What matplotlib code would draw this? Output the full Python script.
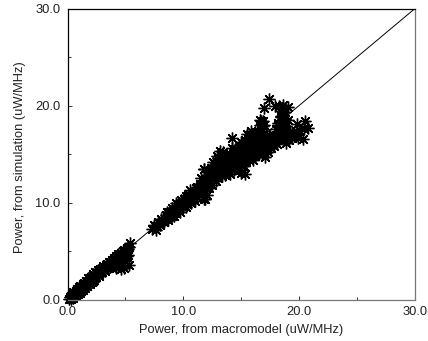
import matplotlib
matplotlib.use("Agg")
import matplotlib.pyplot as plt

# valores, por tramos
low_x = [0.1, 0.2, 0.3, 0.4, 0.5, 0.5, 0.7, 0.8, 0.9, 1.0, 1.1, 1.1, 1.3, 1.4, 1.5, 1.6, 1.7, 1.8, 1.9, 2.0, 2.1, 2.2, 2.3, 2.4, 2.5, 2.6, 2.7, 2.8, 3.0, 3.1, 3.2, 3.3, 3.5, 3.6, 3.7, 3.8, 3.9, 4.0, 4.1, 4.2, 4.3, 4.4, 4.5, 4.6, 4.7, 4.8, 5.0, 5.1, 5.2, 5.3, 5.4, 5.3, 4.9, 4.6, 4.2, 0.6, 0.9, 1.2, 1.5, 1.8, 2.1, 2.4, 2.7, 3.0, 3.3, 3.6, 3.9, 4.2, 4.5, 4.8, 5.1, 4.4, 4.8, 5.0, 0.3, 0.7, 1.0, 1.3, 1.6, 1.9, 2.2, 2.5, 2.8, 3.1, 3.4, 3.7, 4.0, 4.3, 4.6, 4.9, 5.2, 1.2, 1.7, 2.2, 2.7, 3.2, 3.7, 4.2, 4.7, 5.1]
low_y = [0.1, 0.3, 0.1, 0.6, 0.2, 0.8, 0.4, 1.1, 0.6, 1.3, 0.7, 1.4, 1.0, 1.7, 1.2, 1.9, 1.4, 2.2, 1.6, 2.3, 1.8, 2.6, 2.0, 2.8, 2.3, 3.0, 2.5, 3.1, 2.8, 3.5, 3.0, 3.6, 3.2, 3.9, 3.4, 4.1, 3.6, 4.2, 3.5, 4.5, 3.8, 4.7, 4.0, 4.8, 4.2, 5.0, 4.4, 5.3, 4.6, 5.4, 5.8, 3.6, 3.2, 3.1, 3.2, 0.6, 0.9, 1.1, 1.5, 1.8, 2.1, 2.4, 2.7, 3.1, 3.3, 3.6, 3.9, 4.1, 4.4, 4.6, 5.0, 3.5, 3.8, 4.0, 0.4, 0.9, 1.2, 1.6, 1.9, 2.2, 2.5, 2.7, 3.0, 3.3, 3.7, 3.9, 4.3, 4.5, 4.7, 5.1, 5.2, 0.9, 1.4, 1.9, 2.4, 2.9, 3.5, 3.9, 4.3, 4.5]
mid_x = [7.3, 7.5, 7.6, 7.8, 8.0, 8.1, 8.3, 8.5, 8.7, 8.8, 9.0, 9.2, 9.3, 9.5, 9.6, 9.8, 10.0, 10.1, 10.3, 10.4, 10.6, 10.8, 10.9, 11.1, 11.2, 11.4, 11.6, 11.7, 11.9, 11.8, 12.0, 12.2, 11.8, 7.7, 8.2, 8.6, 9.1, 9.5, 9.9, 10.2, 10.6, 10.9, 11.3, 11.6, 11.9, 7.9, 8.4, 8.9, 9.4, 9.7, 10.1, 10.5, 10.8, 11.1, 11.5, 11.8, 12.1, 12.0, 11.5, 11.2, 8.6, 9.0, 9.4, 9.8, 10.2, 10.6, 9.2, 9.7, 10.2, 10.7, 11.0]
mid_y = [7.3, 7.7, 7.2, 8.0, 7.7, 8.3, 8.0, 8.7, 8.2, 9.0, 8.6, 9.3, 8.9, 9.6, 9.2, 10.0, 9.5, 10.4, 9.8, 10.8, 10.1, 11.1, 10.4, 11.5, 10.6, 11.9, 11.0, 12.2, 11.2, 13.5, 10.8, 11.5, 10.4, 7.6, 8.1, 8.5, 8.9, 9.3, 9.7, 10.1, 10.5, 10.8, 11.2, 11.5, 11.9, 7.9, 8.3, 8.8, 9.2, 9.8, 10.0, 10.3, 11.0, 11.2, 11.3, 11.8, 12.4, 12.8, 12.5, 11.6, 9.0, 9.4, 9.9, 10.3, 10.7, 11.3, 8.6, 9.0, 9.5, 9.9, 10.2]
high_x = [12.2, 12.4, 12.5, 12.6, 12.8, 12.9, 13.0, 13.2, 13.3, 13.4, 13.6, 13.7, 13.8, 14.0, 14.1, 14.2, 14.4, 14.5, 14.6, 14.8, 14.9, 15.0, 15.2, 15.3, 15.4, 15.6, 15.7, 15.8, 16.0, 16.1, 16.2, 16.4, 16.5, 16.6, 16.8, 16.9, 17.0, 17.2, 17.3, 17.4, 17.6, 17.7, 17.8, 18.0, 18.1, 18.2, 18.3, 18.4, 18.5, 18.6, 18.7, 18.8, 18.9, 19.0, 19.2, 19.4, 14.6, 15.0, 16.6, 17.0]
high_y = [12.0, 13.6, 11.8, 14.2, 12.2, 14.8, 12.5, 15.3, 12.7, 15.2, 12.8, 15.0, 13.2, 12.9, 14.8, 15.6, 13.3, 15.5, 13.6, 15.9, 13.4, 16.2, 13.8, 16.4, 14.2, 16.5, 14.4, 16.9, 14.4, 17.0, 14.8, 16.6, 15.0, 18.5, 15.0, 18.4, 15.4, 16.9, 15.2, 17.0, 15.6, 16.4, 15.8, 16.9, 16.0, 18.0, 16.6, 18.8, 17.4, 19.0, 18.3, 17.5, 17.9, 18.5, 17.2, 17.0, 14.0, 13.0, 15.2, 16.0]
# relleno interior de la nube principal
fill_x = [12.3, 12.6, 12.9, 13.1, 12.7, 13.2, 13.5, 13.4, 13.8, 13.7, 14.1, 14.0, 14.3, 14.4, 14.7, 14.6, 14.9, 15.0, 15.3, 15.2, 15.5, 15.4, 15.8, 15.7, 16.0, 16.1, 16.3, 16.4, 16.6, 16.8, 16.9, 17.1, 17.2, 17.5, 17.6, 17.9, 18.1, 18.3, 18.5, 18.7, 13.0, 13.6, 14.2, 14.8, 15.1, 15.6, 16.2,
          12.4, 12.8, 13.0, 13.3, 13.5, 13.9, 14.1, 14.3, 14.5, 14.7, 14.9, 15.1, 15.3, 15.5, 15.7, 15.9, 16.1, 16.3, 16.5, 16.7, 17.0, 17.3, 17.7, 18.2, 18.4, 18.6, 18.8,
          12.5, 12.7, 13.1, 13.4, 13.6, 13.8, 14.0, 14.2, 14.4, 14.6, 14.8, 15.0, 15.2, 15.4, 15.6, 15.8, 16.0, 16.2, 16.4, 16.6, 16.8, 17.2, 17.5, 18.0, 18.3]
fill_y = [12.6, 13.0, 13.5, 13.0, 14.0, 14.2, 13.5, 14.5, 14.0, 14.8, 13.9, 15.0, 14.5, 14.2, 14.2, 15.0, 14.8, 15.4, 14.5, 15.8, 15.1, 16.0, 15.0, 16.0, 15.5, 16.2, 15.6, 16.1, 16.0, 16.2, 16.8, 15.8, 16.4, 16.1, 16.6, 16.4, 17.0, 17.2, 17.6, 18.0, 14.6, 13.0, 13.4, 14.8, 13.8, 15.5, 14.9,
          13.2, 13.3, 14.1, 13.7, 14.2, 13.6, 14.4, 14.0, 14.7, 14.3, 15.2, 14.1, 15.1, 14.7, 15.6, 14.8, 15.9, 15.2, 15.9, 15.5, 16.5, 16.2, 16.3, 17.0, 17.5, 18.3, 18.6,
          12.4, 13.7, 14.4, 14.1, 13.1, 14.6, 13.6, 14.9, 14.1, 15.3, 14.5, 15.7, 14.2, 15.5, 15.0, 15.3, 16.5, 15.3, 16.3, 15.7, 16.0, 15.9, 16.9, 16.1, 17.9]
# columnas de arriba a la derecha y rama hacia 20
top_x = [16.5, 16.7, 16.9, 16.6, 16.8, 17.0, 16.7, 18.0, 18.2, 18.4, 18.6, 18.8, 18.2, 18.5, 18.7, 18.4, 18.6, 18.9, 18.3, 18.9, 19.2, 19.5, 19.8, 19.1, 19.4, 19.7, 20.0, 15.8, 16.2, 15.5]
top_y = [17.2, 17.6, 17.9, 18.0, 17.0, 18.0, 18.4, 17.6, 18.2, 18.9, 18.6, 19.3, 17.0, 17.8, 18.2, 19.4, 19.6, 16.8, 16.5, 17.5, 17.3, 17.1, 17.0, 16.4, 16.6, 17.4, 17.5, 17.4, 17.3, 17.1]
outlier_x = [17.4, 17.0, 17.9, 18.6, 19.07, 18.3, 20.5, 20.8, 19.8, 20.4, 19.9, 20.3, 18.9, 18.8, 17.05, 15.3, 14.2, 11.8, 11.9]
outlier_y = [20.66, 19.7, 19.9, 20.1, 19.8, 20.0, 18.4, 17.7, 18.1, 17.6, 16.7, 16.5, 16.1, 16.7, 14.7, 12.9, 16.6, 13.5, 10.4]

ticks = [0, 10, 20, 30]
tick_labels = ["0.0", "10.0", "20.0", "30.0"]
minor_ticks = [5, 15, 25]

plt.rcParams["font.family"] = ["Liberation Sans"]
fig = plt.figure(figsize=(4.28, 3.41), dpi=100)
ax = fig.add_axes([67.5 / 428, 1 - 299.5 / 341, 347.5 / 428, 291 / 341])

ax.plot([0, 30], [0, 30], color="black", linewidth=0.7, zorder=1)
all_x = low_x + mid_x + high_x + fill_x + top_x + outlier_x
all_y = low_y + mid_y + high_y + fill_y + top_y + outlier_y
ax.plot(all_x, all_y, linestyle="none", marker=(8, 2, 0), markersize=8.5,
        markeredgewidth=1.0, color="black", zorder=2, clip_on=False)

ax.set_xlim(0, 30)
ax.set_ylim(0, 30)
ax.set_xticks(ticks)
ax.set_xticklabels(tick_labels, fontsize=9.3)
ax.set_yticks(ticks)
ax.set_yticklabels(tick_labels, fontsize=9.3)
ax.set_xticks(minor_ticks, minor=True)
ax.set_yticks(minor_ticks, minor=True)
ax.tick_params(which="major", direction="in", length=3, width=0.7, pad=5, color="#333333", labelcolor="#222222")
ax.tick_params(which="minor", direction="in", length=2, width=0.7, color="#333333")
for name, spine in ax.spines.items():
    spine.set_linewidth(0.9)
ax.spines["right"].set_color("#777777")
ax.spines["bottom"].set_color("#777777")
ax.set_xlabel("Power, from macromodel (uW/MHz)", fontsize=9.3, labelpad=4, color="#222222")
ax.set_ylabel("Power, from simulation (uW/MHz)", fontsize=9.3, labelpad=7, color="#222222", y=0.49)

fig.savefig("out.png", dpi=100)
